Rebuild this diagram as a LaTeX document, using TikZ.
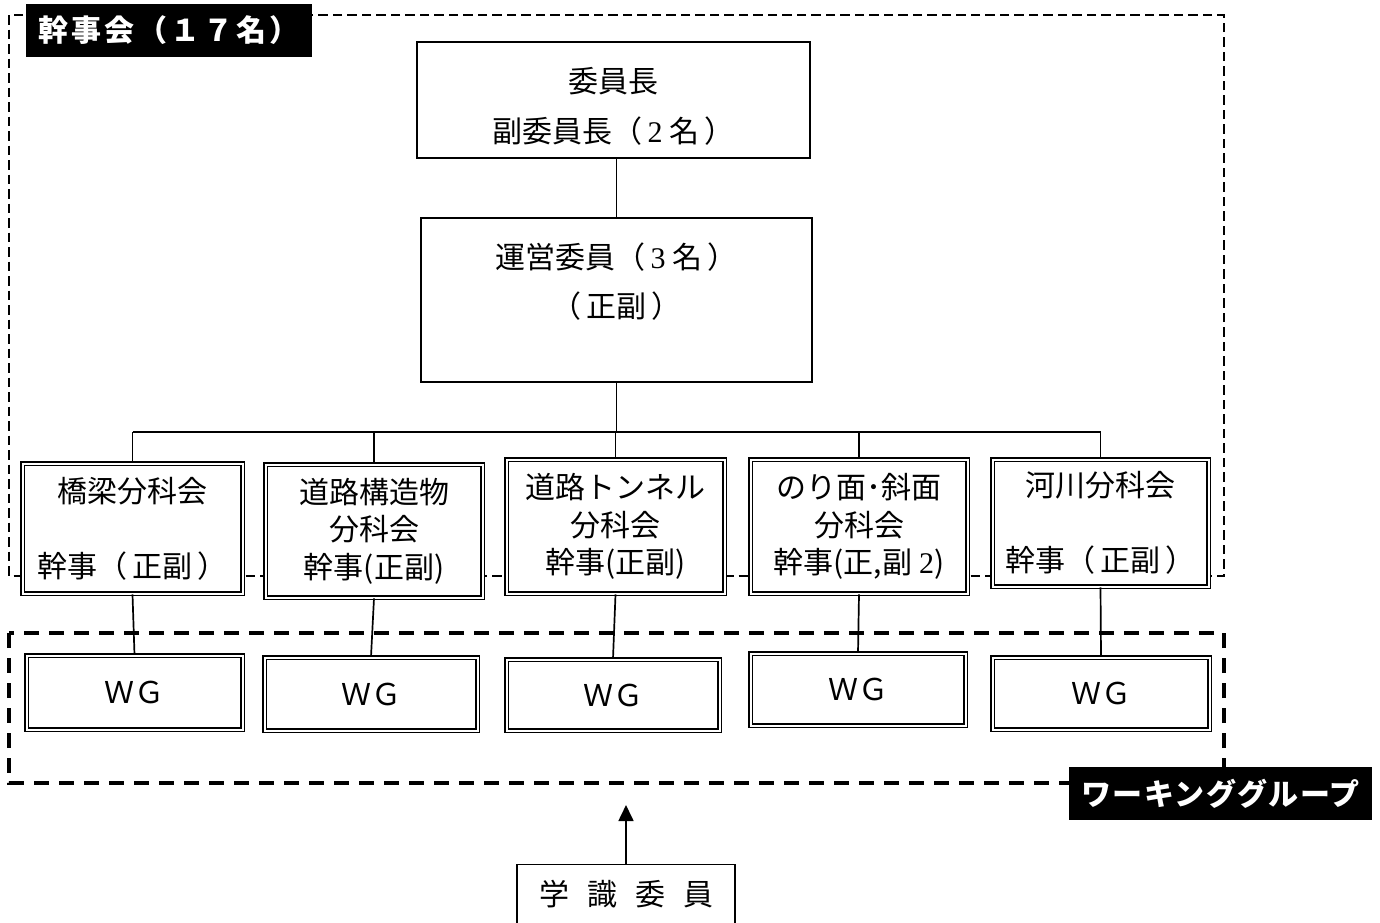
\documentclass[tikz,border=0pt]{standalone}
\usepackage{fontspec}
\setmainfont{Noto Sans CJK JP}
\newfontfamily\seriffont{Liberation Serif}
\usetikzlibrary{arrows.meta}
\begin{document}
\begin{tikzpicture}[x=1pt,y=-1pt,
  font=\fontsize{30pt}{37.5pt}\selectfont,
  plainbox/.style={draw,line width=1.6pt,fill=white,inner sep=0pt},
  dblbox/.style={draw,line width=1.6pt,double=white,double distance=2pt,fill=white,inner sep=0pt,align=center},
  tag/.style={fill=black,text=white,font=\fontsize{30pt}{36pt}\selectfont\bfseries,inner sep=0pt},
  conn/.style={line width=1.7pt},
  groupA/.style={line width=2.6pt,dash pattern=on 9.5pt off 5pt},
  groupB/.style={line width=4pt,dash pattern=on 15pt off 10pt}]
\useasboundingbox (0,0) rectangle (1380,922);
\fill[white] (0,0) rectangle (1380,922);

% group frames
\draw[groupA] (9,15) rectangle (1224,576);
\draw[groupB] (9,633) rectangle (1224,783);

% top boxes
\node[plainbox,minimum width=393pt,minimum height=116pt] (chair) at (613.5,100)
  {\raisebox{-16pt}[0pt][0pt]{\begin{tabular}{@{}c@{}}委員長\\[12.5pt]副委員長（\,{\seriffont 2} 名\,）\end{tabular}}};
\node[plainbox,minimum width=391pt,minimum height=164pt] (op) at (616.5,300)
  {\raisebox{8pt}[0pt][0pt]{\begin{tabular}{@{}c@{}}運営委員（\,{\seriffont 3} 名\,）\\[11.5pt]（\,正副\,）\end{tabular}}};

% subcommittees
\node[dblbox,minimum width=220pt,minimum height=130pt] (s1) at (132.5,528.5) {橋梁分科会\\[37.5pt]幹事（\,正副\,）};
\node[dblbox,minimum width=217pt,minimum height=133pt] (s2) at (374,531) {道路構造物\\分科会\\幹事(正副)};
\node[dblbox,minimum width=218pt,minimum height=134pt] (s3) at (615.5,526.5) {道路トンネル\\分科会\\幹事(正副)};
\node[dblbox,minimum width=217pt,minimum height=134pt] (s4) at (859,526.5) {のり面･斜面\\分科会\\幹事(正,副 {\seriffont 2})};
\node[dblbox,minimum width=216pt,minimum height=127pt] (s5) at (1100.5,523) {河川分科会\\[37.5pt]幹事（\,正副\,）};

% working groups
\node[dblbox,minimum width=216pt,minimum height=74pt] (w1) at (134.5,692.5) {ＷＧ};
\node[dblbox,minimum width=213pt,minimum height=73pt] (w2) at (371,694) {ＷＧ};
\node[dblbox,minimum width=213pt,minimum height=71pt] (w3) at (613,695) {ＷＧ};
\node[dblbox,minimum width=215pt,minimum height=72pt] (w4) at (858,689.5) {ＷＧ};
\node[dblbox,minimum width=217pt,minimum height=72pt] (w5) at (1101,693.5) {ＷＧ};

% academic members
\node[plainbox,minimum width=218pt,minimum height=60pt] (gk) at (626,894.5) {\spaceskip=18pt 学 識 委 員};

% connectors
\coordinate (bus) at (617,432);
\coordinate (arrowtip) at (626,805);
\draw[conn] (op.north |- chair.south) -- (op.north);
\draw[conn] (op.south) -- (op.south |- bus);
\draw[conn] (s1.north |- bus) -- (s5.north |- bus);
\foreach \i in {1,...,5}{
  \draw[conn] (s\i.north) -- (s\i.north |- bus);
  \draw[conn] (s\i.south) -- (w\i.north);
}
\draw[conn,-{Triangle[width=15pt,length=16pt]}] (gk.north) -- (arrowtip);

% tags
\node[tag,minimum width=286pt,minimum height=53pt] (kanjikai) at (169,30.5) {\addfontfeature{LetterSpace=10}幹事会（１７名）};
\node[tag,minimum width=303pt,minimum height=53pt] (wglabel) at (1220.5,793.5) {\addfontfeature{LetterSpace=5}ワーキンググループ};
\end{tikzpicture}
\end{document}
